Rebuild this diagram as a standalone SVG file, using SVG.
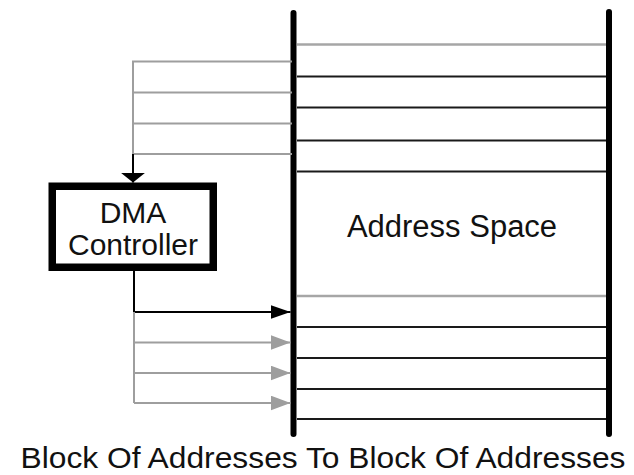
<svg xmlns="http://www.w3.org/2000/svg" width="634" height="475" viewBox="0 0 634 475">
  <style>
    .label { font-family: "Liberation Sans", Arial, sans-serif; fill: #111; }
    .bar { stroke: #000; stroke-width: 6; stroke-linecap: round; fill: none; }
    .row { stroke: #1a1a1a; stroke-width: 2; fill: none; }
    .row-hi { stroke: #a6a6a6; stroke-width: 2.5; fill: none; }
    .wire-grey { stroke: #9e9e9e; stroke-width: 2; fill: none; }
    .wire-black { stroke: #000; stroke-width: 2; fill: none; }
  </style>
  <defs>
    <marker id="headBlack" viewBox="0 0 20 14" refX="20" refY="7" markerWidth="20" markerHeight="14" markerUnits="userSpaceOnUse" orient="auto">
      <path d="M0,0 L20,7 L0,14 Z" fill="#000"/>
    </marker>
    <marker id="headGrey" viewBox="0 0 20 15" refX="20" refY="7.5" markerWidth="20" markerHeight="15" markerUnits="userSpaceOnUse" orient="auto">
      <path d="M0,0 L20,7.5 L0,15 Z" fill="#9e9e9e"/>
    </marker>
    <marker id="headDown" viewBox="0 0 10 25" refX="10" refY="12.5" markerWidth="10" markerHeight="25" markerUnits="userSpaceOnUse" orient="auto">
      <path d="M0,0 L10,12.5 L0,25 Z" fill="#000"/>
    </marker>
  </defs>

  <!-- address space block -->
  <g id="address-space">
    <line class="row-hi" x1="297" y1="44.5" x2="606" y2="44.5"/>
    <line class="row" x1="297" y1="76.5" x2="606" y2="76.5"/>
    <line class="row" x1="297" y1="107.5" x2="606" y2="107.5"/>
    <line class="row" x1="297" y1="140.5" x2="606" y2="140.5"/>
    <line class="row" x1="297" y1="171.5" x2="606" y2="171.5"/>
    <line class="row-hi" x1="297" y1="296" x2="606" y2="296"/>
    <line class="row" x1="297" y1="327" x2="606" y2="327"/>
    <line class="row" x1="297" y1="358" x2="606" y2="358"/>
    <line class="row" x1="297" y1="389" x2="606" y2="389"/>
    <line class="row" x1="297" y1="419" x2="606" y2="419"/>
    <line class="bar" x1="293.5" y1="13" x2="293.5" y2="434"/>
    <line class="bar" x1="609" y1="12" x2="609" y2="434"/>
    <text class="label" x="452" y="237" font-size="31" text-anchor="middle">Address Space</text>
  </g>

  <!-- DMA controller -->
  <g id="dma-controller">
    <rect x="52.25" y="186.25" width="161" height="81" fill="#fff" stroke="#000" stroke-width="7.5"/>
    <text class="label" x="133" y="223" font-size="30" text-anchor="middle">DMA</text>
    <text class="label" x="133" y="255" font-size="30" text-anchor="middle">Controller</text>
  </g>

  <!-- connectors -->
  <g id="connectors">
    <!-- source block gathered into the controller -->
    <path class="wire-grey" d="M292,61.5 H133 V154 M292,92.5 H133 M292,123.5 H133 M292,154 H133"/>
    <line class="wire-black" x1="133" y1="154" x2="133" y2="182.5" marker-end="url(#headDown)"/>
    <!-- controller written out to the destination block -->
    <path class="wire-black" d="M134,271 V312 H290.5" marker-end="url(#headBlack)"/>
    <path class="wire-grey" d="M134,312 V403"/>
    <line class="wire-grey" x1="134" y1="342.5" x2="290.5" y2="342.5" marker-end="url(#headGrey)"/>
    <line class="wire-grey" x1="134" y1="373" x2="290.5" y2="373" marker-end="url(#headGrey)"/>
    <line class="wire-grey" x1="134" y1="403" x2="290.5" y2="403" marker-end="url(#headGrey)"/>
  </g>

  <text id="caption" class="label" x="323" y="468" font-size="30" text-anchor="middle" textLength="605" lengthAdjust="spacingAndGlyphs">Block Of Addresses To Block Of Addresses</text>
</svg>
